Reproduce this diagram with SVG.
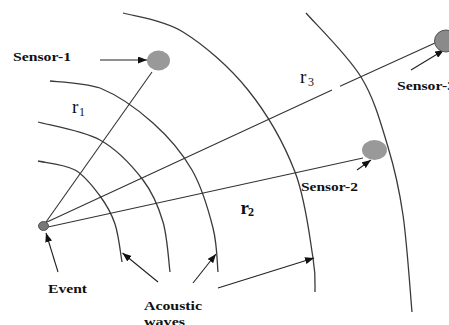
<svg xmlns="http://www.w3.org/2000/svg" width="449" height="325" viewBox="0 0 449 325">
<defs>
<marker id="ah" markerUnits="userSpaceOnUse" markerWidth="9" markerHeight="7" refX="9" refY="3.5" orient="auto">
<path d="M0,0 L9,3.5 L0,7 z" fill="#111"/>
</marker>
<style>
.wave{fill:none;stroke:#3a3a3a;stroke-width:1.3}
.ray{fill:none;stroke:#333;stroke-width:1.1}
.arr{fill:none;stroke:#222;stroke-width:1.1;marker-end:url(#ah)}
.lbl{font-family:"Liberation Serif","Times New Roman",serif;font-weight:bold;font-size:13px;fill:#111}
.r{font-family:"Liberation Serif","Times New Roman",serif;font-size:19px;fill:#111}
.sub{font-family:"Liberation Serif","Times New Roman",serif;font-size:12px;fill:#111}
.sensor{fill:#999}
</style>
</defs>
<rect width="449" height="325" fill="#fff"/>
<g id="waves">
<path class="wave" d="M38,161 C44.2,162.5 64.7,164.2 75,170 C85.3,175.8 93.3,187 100,196 C106.7,205 111.3,213 115,224 C118.7,235 120.8,255.7 122,262"/>
<path class="wave" d="M38,122 C48.3,125 82.5,130.3 100,140 C117.5,149.7 132.5,166.3 143,180 C153.5,193.7 158.5,206.7 163,222 C167.5,237.3 168.8,263.7 170,272"/>
<path class="wave" d="M50,81 C60,82 84,83 100,88 C117.2,95 137.7,109.3 153,123 C168.3,136.7 182,152.5 192,170 C202,187.5 208.7,211 213,228 C217.3,245 217.2,264.7 218,272"/>
<path class="wave" d="M123,13 C133,16.2 162.2,19.2 183,32 C203.8,44.8 229.3,66.7 248,90 C266.7,113.3 284.2,144 295,172 C305.8,200 309.7,238 313,258 C316.3,278 314.7,286.3 315,292"/>
<path class="wave" d="M306,13 C315.2,23.7 347.3,54.7 361,77 C374.7,99.3 381,124 388,147 C395,170 399,187.5 403,215 C407,242.5 410.5,295.8 412,312"/>
</g>
<g id="connectors">
<line class="ray" x1="46" y1="222" x2="152" y2="72"/>
<line class="ray" x1="48" y1="227" x2="363" y2="158"/>
<line class="ray" x1="47" y1="222" x2="332" y2="90"/>
<line class="ray" x1="340" y1="86.3" x2="435" y2="43"/>
<line class="arr" x1="100" y1="60" x2="147" y2="60"/>
<line class="arr" x1="411" y1="70" x2="444" y2="50"/>
<line class="arr" x1="357" y1="170" x2="371" y2="160"/>
<line class="arr" x1="58" y1="272" x2="46" y2="233"/>
<line class="arr" x1="158" y1="282" x2="122.5" y2="253"/>
<line class="arr" x1="193" y1="283" x2="216" y2="254"/>
<line class="arr" x1="218" y1="288" x2="314" y2="258"/>
</g>
<g id="event">
<ellipse cx="43.5" cy="226" rx="5" ry="4.5" fill="#777" stroke="#555" stroke-width="1"/>
<text class="lbl" x="48" y="292.5" textLength="39" lengthAdjust="spacingAndGlyphs">Event</text>
</g>
<g id="sensor1">
<ellipse class="sensor" cx="158.5" cy="60.5" rx="11.5" ry="10"/>
<text class="lbl" x="13" y="61" textLength="58" lengthAdjust="spacingAndGlyphs">Sensor-1</text>
</g>
<g id="sensor2">
<ellipse class="sensor" cx="374.5" cy="150" rx="12.5" ry="10"/>
<text class="lbl" x="301" y="191" textLength="57" lengthAdjust="spacingAndGlyphs">Sensor-2</text>
</g>
<g id="sensor3">
<ellipse cx="446" cy="41" rx="11.5" ry="11" fill="#8a8a8a" stroke="#555" stroke-width="1"/>
<text class="lbl" x="397" y="90" textLength="58" lengthAdjust="spacingAndGlyphs">Sensor-3</text>
</g>
<g id="labels">
<text class="r" x="72" y="113">r</text><text class="sub" x="79" y="116">1</text>
<text class="r" x="240.5" y="213.5" font-weight="bold">r</text><text class="sub" x="248" y="216" font-weight="bold">2</text>
<text class="r" x="300" y="83">r</text><text class="sub" x="308" y="86">3</text>
<text class="lbl" x="144" y="310" textLength="58" lengthAdjust="spacingAndGlyphs">Acoustic</text>
<text class="lbl" x="144" y="326" textLength="41" lengthAdjust="spacingAndGlyphs">waves</text>
</g>
</svg>
